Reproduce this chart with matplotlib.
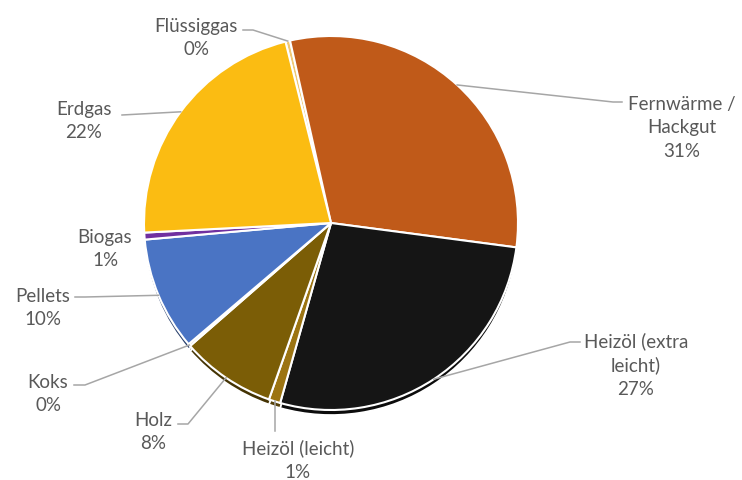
import matplotlib
matplotlib.use("Agg")
import matplotlib.pyplot as plt
import numpy as np
from matplotlib.colors import to_rgb

# shares of heating sources (percent), clockwise from the top
categories = ["Flüssiggas", "Fernwärme /\nHackgut", "Heizöl (extra\nleicht)",
              "Heizöl (leicht)", "Holz", "Koks", "Pellets", "Biogas", "Erdgas"]
shares = [0.4, 30.6, 27.3, 1.0, 8.2, 0.2, 9.8, 0.6, 21.9]
colors = ["#EFC874", "#C05A19", "#151515", "#9C7412", "#7B5D06",
          "#A5A5A5", "#4A74C4", "#7030A0", "#FBBC12"]

# layout (pixels from top-left of the image)
W, H = 742, 481
CX, CY, R = 331, 224, 187
label_pos = [(196, 38), (682, 128), (636, 365), (298, 460), (153, 432),
             (48, 394), (43, 308), (105, 249), (84, 121)]
leader_pts = [[(253, 31), (243, 31)], [(613, 103), (622, 103)],
              [(570, 343), (580, 343)], [(None, 432)],
              [(188, 425), (178, 425)], [(85, 386), (74, 386)],
              [(85, 298), (75, 298)], [], [(122, 116)]]

START = 104.1

fig = plt.figure(figsize=(W / 100, H / 100), dpi=100)
ax = fig.add_axes([0, 0, 1, 1])

# darker copy below gives the thin 3D rim
dark = [tuple(c * 0.55 for c in to_rgb(col)) for col in colors]
ax.pie(shares, colors=dark, startangle=START, counterclock=False,
       center=(CX, H - CY - 5), radius=R, frame=True,
       wedgeprops=dict(edgecolor="white", linewidth=1.2))
ax.pie(shares, colors=colors, startangle=START, counterclock=False,
       center=(CX, H - CY), radius=R, frame=True,
       wedgeprops=dict(edgecolor="white", linewidth=1.5))
ax.set_xlim(0, W)
ax.set_ylim(0, H)
ax.set_aspect("equal")
ax.axis("off")

total = sum(shares)
cum = 0
for name, val, (lx, ly), pts in zip(categories, shares, label_pos, leader_pts):
    mid = np.deg2rad(START - 360 * (cum + val / 2) / total)
    cum += val
    rx, ry = CX + R * np.cos(mid), H - CY + R * np.sin(mid)
    if pts:
        xs = [rx] + [rx if p[0] is None else p[0] for p in pts]
        ys = [ry] + [H - p[1] for p in pts]
        ax.plot(xs, ys, color="#A6A6A6", lw=1.1, zorder=3)
    ax.text(lx, H - ly, f"{name}\n{round(val):.0f}%", ha="center", va="center",
            fontsize=13.5, family="Lato", color="#595959", linespacing=1.45)

fig.savefig("out.png", dpi=100)
